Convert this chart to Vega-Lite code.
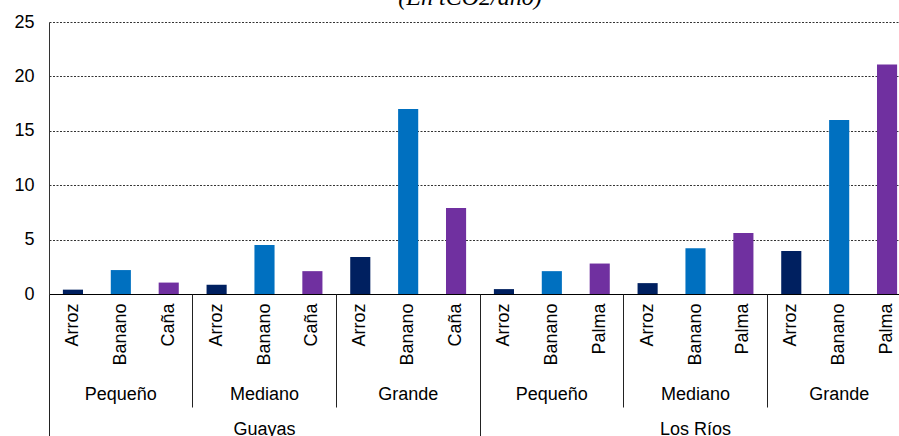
{
  "$schema": "https://vega.github.io/schema/vega-lite/v6.json",
  "width": 850,
  "height": 272,
  "autosize": {"type": "none"},
  "padding": {"left": 49, "top": 22, "right": 0, "bottom": 142},
  "background": "white",
  "title": {"text": "(En tCO2/año)", "font": "Liberation Serif", "fontStyle": "italic", "fontWeight": "normal", "fontSize": 24, "color": "#000", "frame": "group", "offset": 3, "anchor": "middle", "dx": -4},
  "data": {"values": [
    {"key": "Guayas|Pequeño|Arroz", "prov": "Guayas", "size": "Pequeño", "crop": "Arroz", "value": 0.4},
    {"key": "Guayas|Pequeño|Banano", "prov": "Guayas", "size": "Pequeño", "crop": "Banano", "value": 2.2},
    {"key": "Guayas|Pequeño|Caña", "prov": "Guayas", "size": "Pequeño", "crop": "Caña", "value": 1.05},
    {"key": "Guayas|Mediano|Arroz", "prov": "Guayas", "size": "Mediano", "crop": "Arroz", "value": 0.85},
    {"key": "Guayas|Mediano|Banano", "prov": "Guayas", "size": "Mediano", "crop": "Banano", "value": 4.5},
    {"key": "Guayas|Mediano|Caña", "prov": "Guayas", "size": "Mediano", "crop": "Caña", "value": 2.1},
    {"key": "Guayas|Grande|Arroz", "prov": "Guayas", "size": "Grande", "crop": "Arroz", "value": 3.4},
    {"key": "Guayas|Grande|Banano", "prov": "Guayas", "size": "Grande", "crop": "Banano", "value": 17.0},
    {"key": "Guayas|Grande|Caña", "prov": "Guayas", "size": "Grande", "crop": "Caña", "value": 7.9},
    {"key": "Los Ríos|Pequeño|Arroz", "prov": "Los Ríos", "size": "Pequeño", "crop": "Arroz", "value": 0.45},
    {"key": "Los Ríos|Pequeño|Banano", "prov": "Los Ríos", "size": "Pequeño", "crop": "Banano", "value": 2.1},
    {"key": "Los Ríos|Pequeño|Palma", "prov": "Los Ríos", "size": "Pequeño", "crop": "Palma", "value": 2.8},
    {"key": "Los Ríos|Mediano|Arroz", "prov": "Los Ríos", "size": "Mediano", "crop": "Arroz", "value": 1.0},
    {"key": "Los Ríos|Mediano|Banano", "prov": "Los Ríos", "size": "Mediano", "crop": "Banano", "value": 4.2},
    {"key": "Los Ríos|Mediano|Palma", "prov": "Los Ríos", "size": "Mediano", "crop": "Palma", "value": 5.6},
    {"key": "Los Ríos|Grande|Arroz", "prov": "Los Ríos", "size": "Grande", "crop": "Arroz", "value": 3.95},
    {"key": "Los Ríos|Grande|Banano", "prov": "Los Ríos", "size": "Grande", "crop": "Banano", "value": 16.0},
    {"key": "Los Ríos|Grande|Palma", "prov": "Los Ríos", "size": "Grande", "crop": "Palma", "value": 21.1}
  ]},
  "config": {
    "view": {"stroke": null},
    "axis": {"labelFont": "Liberation Sans", "labelFontSize": 18, "labelColor": "#000"}
  },
  "resolve": {"axis": {"x": "independent"}},
  "layer": [
    {
      "mark": {"type": "bar", "width": {"band": 0.42}},
      "encoding": {
        "x": {"field": "key", "type": "nominal", "sort": null,
          "scale": {"range": [0, 862], "paddingInner": 0, "paddingOuter": 0},
          "axis": {"orient": "bottom", "title": null, "labelAngle": -90, "labelExpr": "split(datum.value, '|')[2]", "ticks": false, "domain": true, "domainColor": "#000", "domainWidth": 1, "labelPadding": 9, "labelBaseline": "middle", "labelAlign": "right", "grid": false}},
        "y": {"field": "value", "type": "quantitative", "scale": {"domain": [0, 25]},
          "axis": {"title": null, "values": [0, 5, 10, 15, 20, 25], "ticks": false, "domainColor": "#333", "grid": true, "gridColor": "#333", "gridDash": [2, 1.5], "labelPadding": 15}},
        "color": {"field": "crop", "type": "nominal", "scale": {"domain": ["Arroz", "Banano", "Caña", "Palma"], "range": ["#002060", "#0070C0", "#7030A0", "#7030A0"]}, "legend": null}
      }
    },
    {
      "mark": {"type": "rule", "opacity": 0},
      "encoding": {
        "x": {"field": "key", "type": "nominal", "sort": null,
          "axis": {"orient": "bottom", "title": null, "values": ["Guayas|Pequeño|Banano", "Guayas|Mediano|Banano", "Guayas|Grande|Banano", "Los Ríos|Pequeño|Banano", "Los Ríos|Mediano|Banano", "Los Ríos|Grande|Banano"], "labelExpr": "split(datum.value, '|')[1]", "labelAngle": 0, "labelAlign": "center", "labelBaseline": "top", "ticks": false, "domain": false, "labelPadding": 91, "grid": false}}
      }
    },
    {
      "mark": {"type": "rule", "opacity": 0},
      "encoding": {
        "x": {"field": "key", "type": "nominal", "sort": null,
          "axis": {"orient": "bottom", "title": null, "values": ["Guayas|Mediano|Banano", "Los Ríos|Mediano|Banano"], "labelExpr": "split(datum.value, '|')[0]", "labelAngle": 0, "labelAlign": "center", "labelBaseline": "top", "ticks": false, "domain": false, "labelPadding": 126, "grid": false}}
      }
    },
    {
      "mark": {"type": "rule", "opacity": 0},
      "encoding": {
        "x": {"field": "key", "type": "nominal", "sort": null,
          "axis": {"orient": "bottom", "title": null, "values": ["Guayas|Pequeño|Arroz", "Guayas|Mediano|Arroz", "Guayas|Grande|Arroz", "Los Ríos|Pequeño|Arroz", "Los Ríos|Mediano|Arroz", "Los Ríos|Grande|Arroz"], "bandPosition": 0, "labels": false, "domain": false, "ticks": true, "tickColor": "#222", "tickWidth": 1,
            "tickSize": {"condition": {"test": "indexof(datum.value, 'Pequeño') >= 0", "value": 150}, "value": 113}, "grid": false}}
      }
    }
  ]
}
